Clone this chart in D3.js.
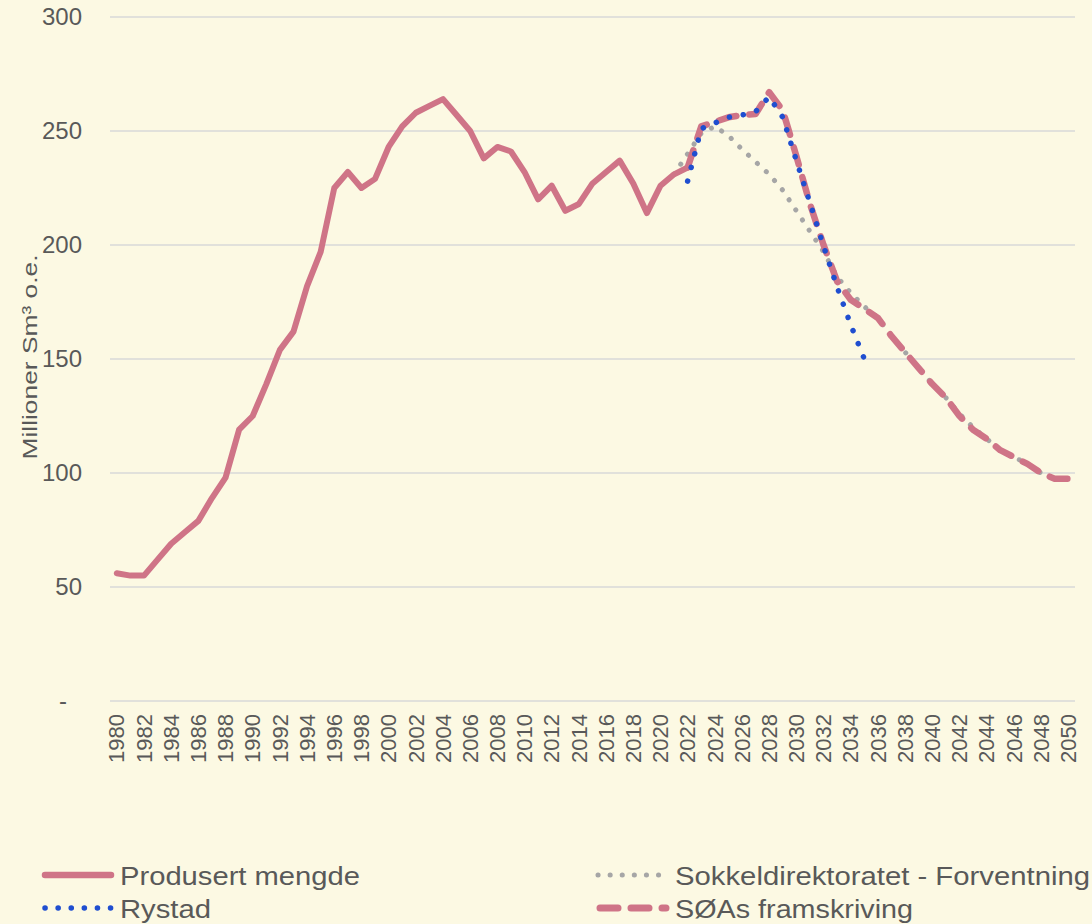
<!DOCTYPE html>
<html>
<head>
    <meta charset="utf-8">
    <title>Produksjon av olje og gass</title>
    <script src="https://d3js.org/d3.v7.min.js"></script>
    <style>
        body { margin: 0; background: #fcf9e3; }
        svg { display: block; }
        text { font-family: "Liberation Sans", Arial, sans-serif; fill: #595959; }
    </style>
</head>
<body>
    <script>
        // årstall (kategorier)
        const years = d3.range(1980, 2051);

        // produsert mengde 1980-2022
        const producedStart = 1980;
        const produced = [56, 55, 55, 62, 69, 74, 79, 89, 98, 119,
                          125, 139, 154, 162, 182, 197, 225, 232, 225, 229,
                          243, 252, 258, 261, 264, 257, 250, 238, 243, 241,
                          232, 220, 226, 215, 218, 227, 232, 237, 227, 214,
                          226, 231, 234];

        // Sokkeldirektoratet - Forventning 2021-2050
        const sokkelStart = 2021;
        const sokkel = [231, 240, 249, 252, 248, 242, 236.5, 231, 224, 215,
                        206, 197, 186, 179, 173, 168, 160, 153, 146, 139,
                        133, 126, 120, 115, 110, 107, 104, 100, 97.5, 97.5];

        // Rystad 2022-2035
        const rystadStart = 2022;
        const rystad = [228, 251, 253.5, 256, 257, 258.5, 265, 256, 237, 218.5,
                        199.5, 181.5, 165, 150];

        // SØAs framskriving 2022-2050
        const soaStart = 2022;
        const soa = [234, 252, 254, 256, 257, 257.5, 267, 259, 239, 218,
                     200, 184, 176, 172, 168, 160, 153, 146, 139, 133,
                     125, 119, 115, 110, 107, 104, 100, 97.5, 97.5];

        const yTicks = [0, 50, 100, 150, 200, 250, 300];
        const yTickLabels = ["-", "50", "100", "150", "200", "250", "300"];

        const seriesNames = ["Produsert mengde", "Rystad", "Sokkeldirektoratet - Forventning", "SØAs framskriving"];

        const width = 1092, height = 924;
        const pink = "#cf7487", blue = "#1f4ed0", grey = "#a6a6a6";

        const svg = d3.select("body").append("svg")
            .attr("width", width)
            .attr("height", height);

        svg.append("rect")
            .attr("width", width)
            .attr("height", height)
            .attr("fill", "#fcf9e3");

        // skalaer
        const x = d3.scalePoint()
            .domain(years)
            .range([110, 1075])
            .padding(0.5);

        const y = d3.scaleLinear()
            .domain([0, 300])
            .range([701, 17]);

        // rutenett
        svg.selectAll("line.grid")
            .data(yTicks)
            .enter().append("line")
            .attr("class", "grid")
            .attr("x1", 110)
            .attr("x2", 1075)
            .attr("y1", d => y(d))
            .attr("y2", d => y(d))
            .attr("stroke", "#d9d9d9")
            .attr("stroke-width", 1.5);

        // y-akse tekst
        svg.selectAll("text.ytick")
            .data(yTicks)
            .enter().append("text")
            .attr("class", "ytick")
            .attr("x", 82)
            .attr("dx", (d, i) => i === 0 ? -15 : 0)
            .attr("y", d => y(d))
            .attr("dy", "0.35em")
            .attr("text-anchor", "end")
            .attr("font-size", 24)
            .text((d, i) => yTickLabels[i]);

        // x-akse tekst (annenhvert år)
        svg.selectAll("text.xtick")
            .data(years.filter(d => d % 2 === 0))
            .enter().append("text")
            .attr("class", "xtick")
            .attr("transform", d => `translate(${x(d)},714) rotate(-90)`)
            .attr("dy", "0.35em")
            .attr("text-anchor", "end")
            .attr("font-size", 22)
            .text(d => d);

        // aksetittel
        svg.append("text")
            .attr("transform", "translate(30,357) rotate(-90)")
            .attr("dy", "0.35em")
            .attr("text-anchor", "middle")
            .attr("font-size", 21)
            .attr("textLength", 205)
            .attr("lengthAdjust", "spacingAndGlyphs")
            .text("Millioner Sm³ o.e.");

        const line = d3.line()
            .x(d => x(d.year))
            .y(d => y(d.value));

        const toPoints = (start, values) => values.map((v, i) => ({ year: start + i, value: v }));

        // Sokkeldirektoratet
        svg.append("path")
            .datum(toPoints(sokkelStart, sokkel))
            .attr("fill", "none")
            .attr("stroke", grey)
            .attr("stroke-width", 5)
            .attr("stroke-linecap", "round")
            .attr("stroke-dasharray", "0.1,12")
            .attr("d", line);

        // produsert mengde
        svg.append("path")
            .datum(toPoints(producedStart, produced))
            .attr("fill", "none")
            .attr("stroke", pink)
            .attr("stroke-width", 6)
            .attr("stroke-linejoin", "round")
            .attr("stroke-linecap", "round")
            .attr("d", line);

        // SØAs framskriving
        svg.append("path")
            .datum(toPoints(soaStart, soa))
            .attr("fill", "none")
            .attr("stroke", pink)
            .attr("stroke-width", 6.5)
            .attr("stroke-linecap", "round")
            .attr("stroke-linejoin", "round")
            .attr("stroke-dasharray", "18,13")
            .attr("d", line);

        // Rystad
        svg.append("path")
            .datum(toPoints(rystadStart, rystad))
            .attr("fill", "none")
            .attr("stroke", blue)
            .attr("stroke-width", 5.5)
            .attr("stroke-linecap", "round")
            .attr("stroke-dasharray", "0.1,14")
            .attr("d", line);

        // tegnforklaring
        const legend = [
            { name: seriesNames[0], x: 45, y: 875, w: 240, stroke: pink, width: 6.5, dash: null },
            { name: seriesNames[1], x: 45, y: 908, w: 91, stroke: blue, width: 5.5, dash: "0.1,13" },
            { name: seriesNames[2], x: 598, y: 875, w: 415, stroke: grey, width: 5, dash: "0.1,12" },
            { name: seriesNames[3], x: 600, y: 908, w: 238, stroke: pink, width: 7, dash: "18,13" }
        ];

        const lg = svg.selectAll("g.legend")
            .data(legend)
            .enter().append("g")
            .attr("class", "legend");

        lg.append("line")
            .attr("x1", d => d.x)
            .attr("x2", d => d.x + 66)
            .attr("y1", d => d.y)
            .attr("y2", d => d.y)
            .attr("stroke", d => d.stroke)
            .attr("stroke-width", d => d.width)
            .attr("stroke-linecap", "round")
            .attr("stroke-dasharray", d => d.dash);

        lg.append("text")
            .attr("x", (d, i) => i < 2 ? 120 : 675)
            .attr("y", d => d.y + 10)
            .attr("font-size", 25)
            .attr("textLength", d => d.w)
            .attr("lengthAdjust", "spacingAndGlyphs")
            .text(d => d.name);
    </script>
</body>
</html>
